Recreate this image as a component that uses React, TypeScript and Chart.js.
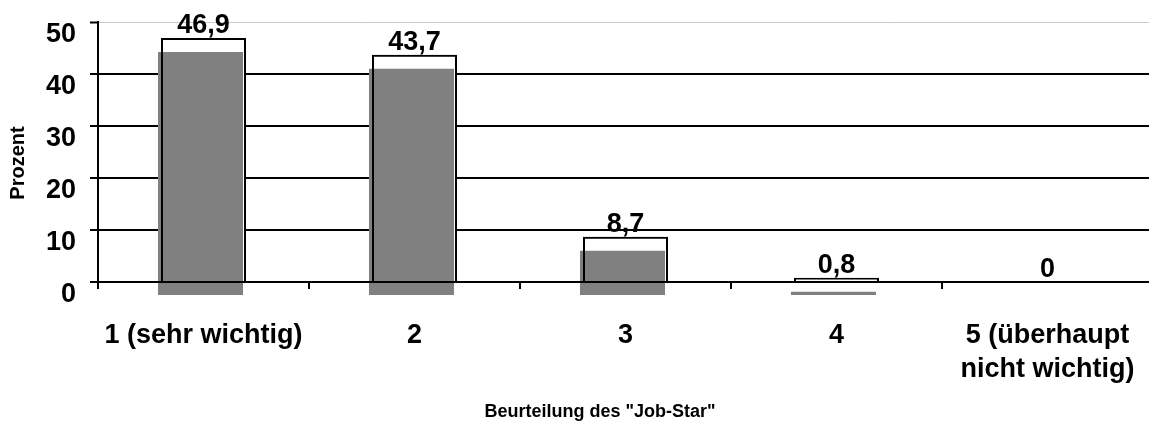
import React, { useEffect, useRef } from "react";
import { Chart, registerables } from "chart.js";

Chart.register(...registerables);

// ---- data ----
const categories: (string | string[])[] = [
  "1 (sehr wichtig)",
  "2",
  "3",
  "4",
  ["5 (überhaupt", "nicht wichtig)"],
];
const percentValues = [46.9, 43.7, 8.7, 0.8, 0];
const yMin = 0;
const yMax = 50;
const yStep = 10;
const yTitle = "Prozent";
const xTitle = 'Beurteilung des "Job-Star"';

// ---- style ----
const FONT = "'Liberation Sans', Arial, Helvetica, sans-serif";
const SHADOW_DX = -3;
const SHADOW_DY = 14;

const shadowShift = {
  id: "shadowShift",
  beforeDatasetDraw(chart: any, args: any) {
    if (args.index === 1) {
      chart.ctx.save();
      chart.ctx.translate(SHADOW_DX, SHADOW_DY);
    }
  },
  afterDatasetDraw(chart: any, args: any) {
    if (args.index === 1) chart.ctx.restore();
  },
};

const valueLabels = {
  id: "valueLabels",
  afterDatasetsDraw(chart: any) {
    const ctx = chart.ctx;
    const meta = chart.getDatasetMeta(0);
    ctx.save();
    ctx.fillStyle = "#000";
    ctx.font = `bold 27px ${FONT}`;
    ctx.textAlign = "center";
    ctx.textBaseline = "alphabetic";
    meta.data.forEach((el: any, i: number) => {
      const txt = String(percentValues[i]).replace(".", ",");
      ctx.fillText(txt, el.x, el.y - 5);
    });
    ctx.restore();
  },
};

const axisTitles = {
  id: "axisTitles",
  afterDraw(chart: any) {
    const ctx = chart.ctx;
    const area = chart.chartArea;
    ctx.save();
    ctx.fillStyle = "#000";
    ctx.font = `bold 20px ${FONT}`;
    ctx.textAlign = "center";
    ctx.textBaseline = "middle";
    ctx.translate(18.5, (area.top + area.bottom) / 2 + 11);
    ctx.rotate(-Math.PI / 2);
    ctx.fillText(yTitle, 0, 0);
    ctx.restore();
    ctx.save();
    ctx.fillStyle = "#000";
    ctx.font = `bold 18px ${FONT}`;
    ctx.textAlign = "center";
    ctx.textBaseline = "alphabetic";
    ctx.fillText(xTitle, 600, 417);
    ctx.restore();
  },
};

export default function App() {
  const ref = useRef<HTMLCanvasElement>(null);

  useEffect(() => {
    if (!ref.current) return;
    const chart = new Chart(ref.current, {
      type: "bar",
      data: {
        labels: categories as any,
        datasets: [
          {
            label: "outline",
            data: percentValues,
            backgroundColor: "rgba(0,0,0,0)",
            borderColor: "#000",
            borderWidth: 2,
            borderSkipped: "start",
            grouped: false,
            order: 0,
            barPercentage: 0.403,
            categoryPercentage: 1,
          } as any,
          {
            label: "shadow",
            data: percentValues,
            backgroundColor: "#808080",
            borderWidth: 0,
            grouped: false,
            clip: false,
            order: 1,
            barPercentage: 0.403,
            categoryPercentage: 1,
          } as any,
          {
            label: "fill",
            data: percentValues,
            backgroundColor: "#ffffff",
            borderWidth: 0,
            grouped: false,
            order: 2,
            barPercentage: 0.403,
            categoryPercentage: 1,
          } as any,
        ],
      },
      options: {
        responsive: false,
        maintainAspectRatio: false,
        animation: false,
        layout: { padding: { top: 22, left: 0, right: 0, bottom: 0 } },
        plugins: {
          legend: { display: false },
          tooltip: { enabled: false },
          title: { display: false },
        },
        scales: {
          x: {
            type: "category",
            offset: true,
            grid: {
              offset: true,
              drawOnChartArea: false,
              drawTicks: true,
              tickLength: 7,
              color: "#000",
              lineWidth: 2,
              tickColor: "#000",
              tickWidth: 2,
            },
            border: { display: true, color: "#000", width: 2, z: 1 },
            ticks: {
              color: "#000",
              font: { family: FONT, size: 27, weight: "bold", lineHeight: 1.26 },
              padding: 30,
              autoSkip: false,
              maxRotation: 0,
              minRotation: 0,
            },
            afterFit(scale: any) {
              scale.height = 141;
              scale.paddingLeft = 0;
              scale.paddingRight = 0;
              scale.paddingTop = 0;
              scale.paddingBottom = 0;
            },
          } as any,
          y: {
            min: yMin,
            max: yMax,
            ticks: {
              stepSize: yStep,
              color: "#000",
              font: { family: FONT, size: 27, weight: "bold" },
              padding: 14,
              labelOffset: 13,
            },
            grid: {
              color: (c: any) => (c.tick && c.tick.value === yMax ? "#c8c8c8" : "#000"),
              lineWidth: (c: any) => (c.tick && c.tick.value === yMax ? 1 : 2),
              tickColor: "#000",
              tickWidth: 2,
              tickLength: 8,
              drawTicks: true,
            },
            border: { display: true, color: "#000", width: 2 },
            afterFit(scale: any) {
              scale.width = 98;
              scale.paddingLeft = 0;
              scale.paddingRight = 0;
              scale.paddingTop = 0;
              scale.paddingBottom = 0;
            },
          } as any,
        },
      },
      plugins: [shadowShift, valueLabels, axisTitles],
    });
    return () => chart.destroy();
  }, []);

  return (
    <div
      style={{
        position: "fixed",
        left: 0,
        top: 0,
        width: 1149,
        height: 423,
        overflow: "hidden",
        background: "#fff",
      }}
    >
      <canvas ref={ref} width={1153} height={423} style={{ display: "block" }} />
    </div>
  );
}
